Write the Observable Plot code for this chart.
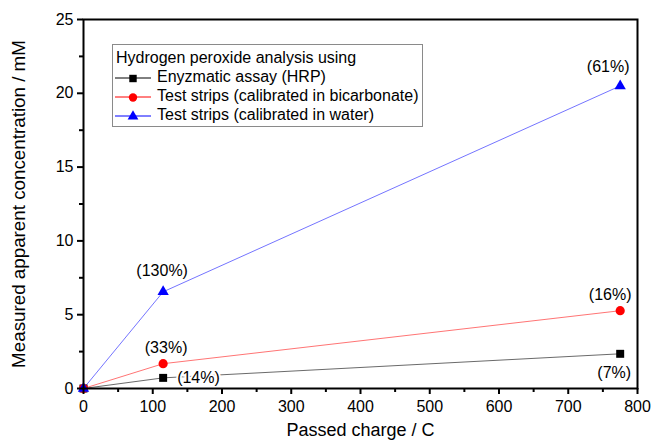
<!DOCTYPE html>
<html>
<head>
<meta charset="utf-8">
<script src="https://cdn.jsdelivr.net/npm/d3@7"></script>
<script src="https://cdn.jsdelivr.net/npm/@observablehq/plot@0.6"></script>
<style>
  html, body { margin: 0; padding: 0; background: #fff; }
  #wrap { position: relative; width: 651px; height: 440px; font-family: "Liberation Sans", Arial, sans-serif; }
  #legend { position: absolute; left: 112px; top: 44px; width: 311px; height: 83px; border: 1px solid #8a8a8a; background: #fff; font-size: 16px; color: #000; box-sizing: border-box; }
  #legend .row { position: absolute; left: 0; height: 19px; line-height: 19px; white-space: nowrap; }
  #legend svg { vertical-align: middle; }
</style>
</head>
<body>
<div id="wrap"></div>
<script>
// ---- data ----
const charge = [0, 115, 775];
const hrp = [0, 0.72, 2.35];
const bicarb = [0, 1.68, 5.27];
const water = [0, 6.55, 20.5];
const seriesNames = ["Enyzmatic assay (HRP)", "Test strips (calibrated in bicarbonate)", "Test strips (calibrated in water)"];
const seriesColors = ["#000000", "#ff0000", "#0000ff"];
const lineColors = ["#444444", "#ff5050", "#5050ff"];
const seriesSymbols = ["square", "circle", "triangle"];
const hrpLabels = ["", "(14%)", "(7%)"];
const bicarbLabels = ["", "(33%)", "(16%)"];
const waterLabels = ["", "(130%)", "(61%)"];
const legendTitle = "Hydrogen peroxide analysis using";
const xTicks = [0, 100, 200, 300, 400, 500, 600, 700, 800];
const xMinor = [50, 150, 250, 350, 450, 550, 650, 750];
const yTicks = [0, 5, 10, 15, 20, 25];
const yMinor = [2.5, 7.5, 12.5, 17.5, 22.5];
const xLabel = "Passed charge / C";
const yLabel = "Measured apparent concentration / mM";

const seriesVals = [hrp, bicarb, water];
const seriesLabels = [hrpLabels, bicarbLabels, waterLabels];
const rows = [];
seriesVals.forEach((vals, s) => vals.forEach((v, i) => rows.push({series: s, x: charge[i], y: v, label: seriesLabels[s][i], idx: i})));

const byS = s => rows.filter(d => d.series === s);
const lab = (s, i) => rows.filter(d => d.series === s && d.idx === i);
const symR = [4.5, 4.6, 4.2];

const font = "Liberation Sans, Arial, sans-serif";
const annot = (s, i, dx, dy, anchor) => Plot.text(lab(s, i), {x: "x", y: "y", text: "label", dx, dy, textAnchor: anchor || "middle", fontSize: 16, fill: "#000", stroke: "white", strokeWidth: 4, paintOrder: "stroke"});

const chart = Plot.plot({
  width: 651, height: 440,
  marginLeft: 83, marginRight: 14, marginTop: 19, marginBottom: 52,
  style: {fontFamily: font, background: "white"},
  x: {domain: [0, 800]},
  y: {domain: [0, 25]},
  marks: [
    ...[0, 1, 2].map(s => Plot.line(byS(s), {x: "x", y: "y", stroke: lineColors[s], strokeWidth: 0.8})),
    annot(0, 1, 14, 0, "start"),
    annot(0, 2, -6, 19),
    annot(1, 1, 3, -16),
    annot(1, 2, -10, -16),
    annot(2, 1, -1, -21),
    annot(2, 2, -12, -19),
    ...[0, 1, 2].map(s => Plot.dot(byS(s), {x: "x", y: "y", symbol: () => seriesSymbols[s], fill: seriesColors[s], stroke: "none", r: symR[s]})),
    Plot.axisX({ticks: xTicks, tickSize: 6, tickPadding: 6, fontSize: 16, strokeWidth: 2, label: null}),
    Plot.axisX({ticks: xMinor, tickSize: 4, tickFormat: () => "", strokeWidth: 2, label: null}),
    Plot.axisY({ticks: yTicks, tickSize: 6, tickPadding: 4, fontSize: 16, strokeWidth: 2, label: null}),
    Plot.axisY({ticks: yMinor, tickSize: 4, tickFormat: () => "", strokeWidth: 2, label: null}),
    Plot.frame({stroke: "#000", strokeWidth: 2}),
    Plot.text([xLabel], {frameAnchor: "bottom", dy: 47, fontSize: 18, fill: "#000"}),
    Plot.text([yLabel], {frameAnchor: "left", textAnchor: "middle", rotate: -90, dx: -65, fontSize: 18.8, fill: "#000"})
  ]
});
const wrap = document.getElementById("wrap");
wrap.appendChild(chart);

// legend
const legend = document.createElement("div");
legend.id = "legend";
const t = document.createElement("div");
t.className = "row"; t.style.top = "3px"; t.style.left = "3px"; t.textContent = legendTitle;
legend.appendChild(t);
seriesNames.forEach((name, s) => {
  const r = document.createElement("div");
  r.className = "row"; r.style.top = (22 + s * 19) + "px"; r.style.left = "2px";
  const sym = d3.symbol(s === 0 ? d3.symbolSquare : s === 1 ? d3.symbolCircle : d3.symbolTriangle, s === 2 ? 50 : 55)();
  r.innerHTML = `<svg width="38" height="14"><line x1="0" x2="36" y1="7" y2="7" stroke="${seriesColors[s]}" stroke-width="1"/><path d="${sym}" transform="translate(18,7.5)" fill="${seriesColors[s]}"/></svg><span style="margin-left:4px">${name}</span>`;
  legend.appendChild(r);
});
wrap.appendChild(legend);
</script>
</body>
</html>
